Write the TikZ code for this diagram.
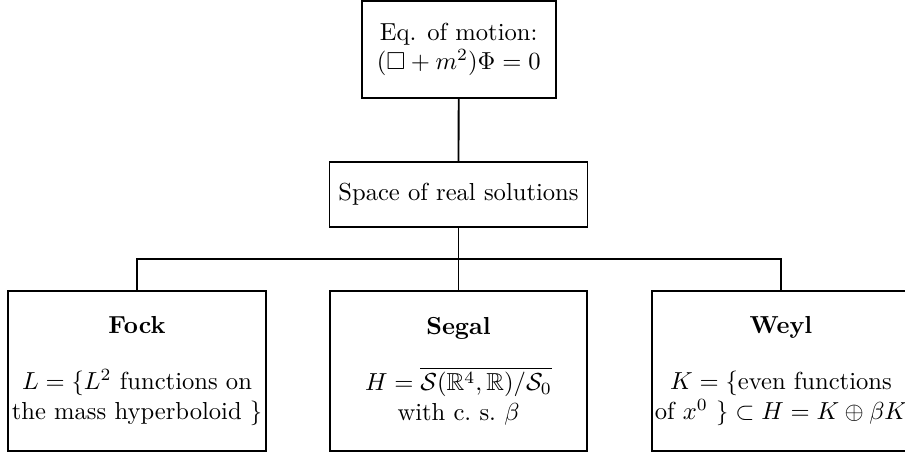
\documentclass[tikz,border=0pt]{standalone}
\usepackage{amsmath,amssymb}
\begin{document}
\begin{tikzpicture}[x=0.4065pt,y=-0.4065pt,
  boxline/.style={draw,line width=0.75pt,align=center,inner sep=0pt},
  topbox/.style={boxline,minimum width=78.9pt,minimum height=39.4pt},
  midbox/.style={boxline,minimum width=104.9pt,minimum height=26.2pt},
  lowbox/.style={boxline,minimum width=104.7pt,minimum height=65.2pt},
  link/.style={line width=0.75pt}]
\useasboundingbox (0,0) rectangle (905,453);
\node[topbox] (eq) at (458.7,49.5) {Eq. of motion:\\$(\Box + m^2)\Phi = 0$};
\node[midbox] (sp) at (458.5,194.5) {Space of real solutions};
\node[lowbox] (fock) at (137,371) {\textbf{Fock}\\[10.9pt]$L = \{L^2$ functions on\\the mass hyperboloid $\}$};
\node[lowbox] (segal) at (458.5,371) {\textbf{Segal}\\[10.9pt]$H = \overline{\mathcal{S}(\mathbb{R}^4,\mathbb{R})/\mathcal{S}_0}$\\with c.\ s.\ $\beta$};
\node[lowbox] (weyl) at (781,371) {\textbf{Weyl}\\[10.9pt]$K = \{$even functions\\of $x^0$ $\} \subset H = K \oplus \beta K$};
\coordinate (bus) at (458.5,259);
\draw[link] (eq.south) -- (sp.north);
\draw[link] (sp.south) -- (segal.north);
\draw[link] (fock.north) |- (bus) -| (weyl.north);
\end{tikzpicture}
\end{document}
